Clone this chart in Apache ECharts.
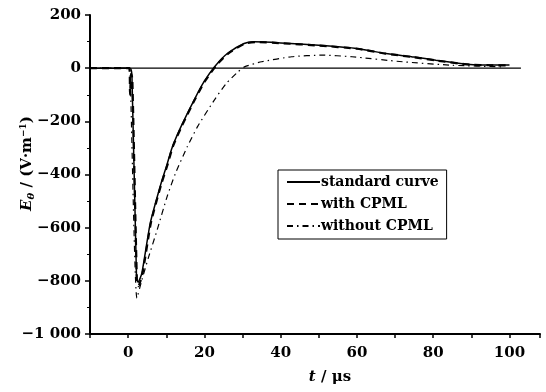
<!DOCTYPE html>
<html>
<head>
<meta charset="utf-8">
<script src="https://cdn.jsdelivr.net/npm/echarts@6/dist/echarts.min.js"></script>
<style>
  html, body { margin: 0; padding: 0; background: #fff; }
  #main { width: 546px; height: 392px; }
</style>
</head>
<body>
<div id="main"></div>
<script>
// time (μs) and field (V/m)
var stdT = [-10, 0.5, 1.0, 2.2, 2.6, 3.6, 5.8, 8.5, 10.2, 11.5, 13.8, 17.3, 19.9, 23, 26.1, 30.4, 33, 40, 50, 60, 67.5, 75, 80.7, 89.6, 95, 100];
var stdE = [0, 0, -30, -790, -805, -771, -583, -440, -362, -300, -222, -120, -51, 11, 56, 93, 99, 95, 86, 74, 55, 42, 30, 14, 12, 12];

var withT = [-10, 0.3, 0.5, 0.8, 1.1, 2.3, 2.7, 3.8, 6.0, 8.7, 10.4, 11.7, 14.0, 17.5, 20.1, 23.2, 26.3, 30.6, 33.5, 40, 50, 60, 67.5, 75, 80.7, 89.6, 95, 100];
var withE = [0, 0, -100, -20, -40, -800, -820, -770, -580, -436, -360, -296, -220, -118, -50, 12, 56, 92, 98, 94, 85, 73, 55, 41, 29, 13, 11, 10];

var withoutT = [-10, 0.3, 0.6, 2.3, 3.6, 5.4, 7.6, 10.2, 12.4, 15.5, 18.2, 22.6, 25.7, 28.8, 30.5, 35, 42.9, 50.8, 58.7, 72, 85, 98];
var withoutE = [0, 0, -60, -865, -797, -709, -609, -484, -396, -296, -220, -120, -58, -14, 5, 24, 43, 49, 43, 24, 11, 5];

var zeroT = [-10, 103];
var zeroE = [0, 0];

var yTicks = [-1000, -800, -600, -400, -200, 0, 200];

function pairs(t, e) {
  var out = [];
  for (var i = 0; i < t.length; i++) out.push([t[i], e[i]]);
  return out;
}

var font = 'DejaVu Serif';

var myChart = echarts.init(document.getElementById('main'));

var option = {
  animation: false,
  color: ['#000', '#000', '#000', '#000'],
  grid: { left: 90, right: 6, top: 15, bottom: 58, containLabel: false, outerBoundsMode: 'none' },
  legend: {
    orient: 'vertical',
    left: 278,
    top: 170,
    padding: [5, 8, 6, 8],
    itemWidth: 33,
    itemHeight: 14,
    itemGap: 8,
    borderColor: '#000',
    borderWidth: 1,
    borderRadius: 0,
    itemStyle: { opacity: 0 },
    textStyle: { fontFamily: font, fontWeight: 'bold', fontSize: 14, color: '#000', padding: [0, 0, 0, -4] },
    data: ['standard curve', 'with CPML', 'without CPML']
  },
  xAxis: {
    type: 'value',
    min: -10,
    max: 108,
    interval: 10,
    name: '{i|t} / μs',
    nameLocation: 'middle',
    nameGap: 36,
    nameMoveOverlap: false,
    nameTextStyle: {
      fontFamily: font, fontWeight: 'bold', fontSize: 15, color: '#000',
      padding: [0, 0, 0, 30],
      rich: { i: { fontFamily: font, fontStyle: 'italic', fontWeight: 'bold', fontSize: 15, color: '#000' } }
    },
    axisLine: { onZero: false, lineStyle: { color: '#000', width: 2 } },
    axisTick: { length: 4, lineStyle: { color: '#000', width: 1.5 } },
    splitLine: { show: false },
    axisLabel: {
      margin: 12,
      fontFamily: font, fontWeight: 'bold', fontSize: 15, color: '#000',
      formatter: function (v) {
        return (v >= 0 && v <= 100 && v % 20 === 0) ? String(v) : '';
      }
    }
  },
  yAxis: {
    type: 'value',
    min: yTicks[0],
    max: yTicks[yTicks.length - 1],
    interval: 200,
    name: '{i|E}{s|θ} / (V·m{p|−1})',
    nameLocation: 'middle',
    nameRotate: 90,
    nameGap: 54,
    nameMoveOverlap: false,
    nameTextStyle: {
      fontFamily: font, fontWeight: 'bold', fontSize: 15, color: '#000',
      padding: [0, 0, 0, 22],
      rich: {
        i: { fontFamily: font, fontStyle: 'italic', fontWeight: 'bold', fontSize: 15, color: '#000' },
        s: { fontFamily: font, fontStyle: 'italic', fontWeight: 'bold', fontSize: 10, color: '#000', verticalAlign: 'bottom', padding: [6, 0, 0, 0] },
        p: { fontFamily: font, fontWeight: 'bold', fontSize: 9, color: '#000', verticalAlign: 'top', padding: [0, 0, 8, 0] }
      }
    },
    axisLine: { show: true, onZero: false, lineStyle: { color: '#000', width: 2 } },
    axisTick: { show: true, length: 5, lineStyle: { color: '#000', width: 1.5 } },
    minorTick: { show: true, splitNumber: 2, length: 3, lineStyle: { color: '#000', width: 1 } },
    splitLine: { show: false },
    axisLabel: {
      margin: 9,
      fontFamily: font, fontWeight: 'bold', fontSize: 15, color: '#000',
      formatter: function (v) {
        if (v === -1000) return '−1 000';
        return v < 0 ? '−' + Math.abs(v) : String(v);
      }
    }
  },
  series: [
    {
      name: 'zero',
      type: 'line',
      data: pairs(zeroT, zeroE),
      symbol: 'none',
      silent: true,
      lineStyle: { color: '#000', width: 1.2 }
    },
    {
      name: 'standard curve',
      type: 'line',
      data: pairs(stdT, stdE),
      symbol: 'none',
      smooth: 0.2,
      lineStyle: { color: '#000', width: 1.5, type: 'solid' }
    },
    {
      name: 'with CPML',
      type: 'line',
      data: pairs(withT, withE),
      symbol: 'none',
      smooth: 0.2,
      lineStyle: { color: '#000', width: 2.2, type: [7, 5] }
    },
    {
      name: 'without CPML',
      type: 'line',
      data: pairs(withoutT, withoutE),
      symbol: 'none',
      smooth: 0.2,
      lineStyle: { color: '#000', width: 1.2, type: [6, 4, 1.5, 4] }
    }
  ]
};

myChart.setOption(option);
</script>
</body>
</html>
